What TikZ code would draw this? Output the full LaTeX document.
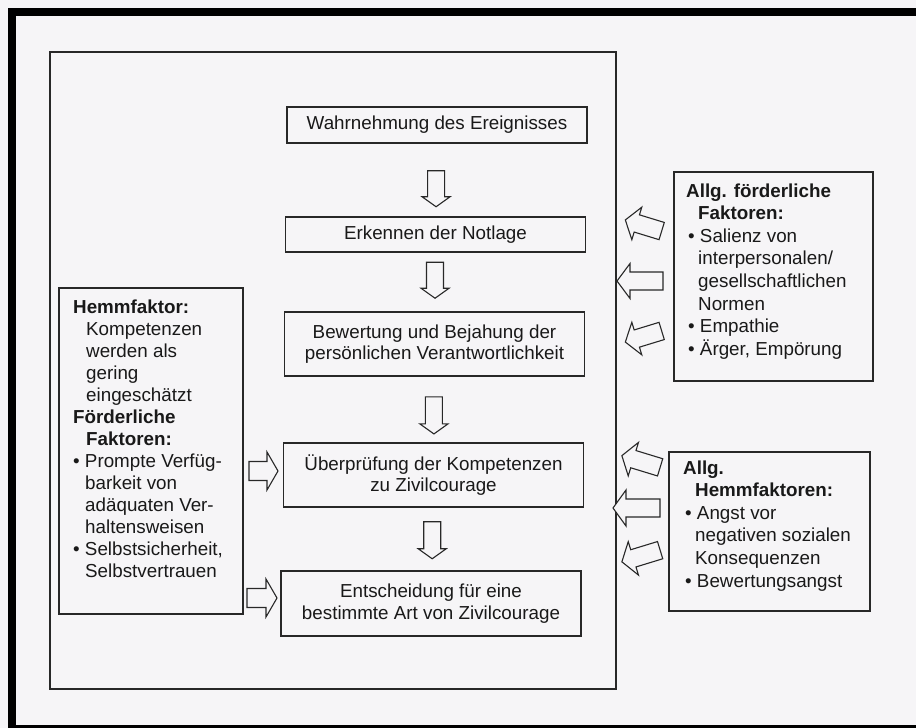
\documentclass[tikz,border=0pt]{standalone}
\usepackage{fontspec}
\setmainfont{Liberation Sans}
\usetikzlibrary{calc}

\definecolor{paper}{RGB}{246,245,247}
\definecolor{ink}{RGB}{25,25,25}
\definecolor{rule}{RGB}{40,40,40}

% hollow block arrow: #1 centre, #2 direction (deg), #3 length,
% #4 shaft width, #5 head width, #6 head length
\newcommand{\hollowarrow}[6]{%
  \draw[arrowline, shift={#1}, rotate=#2]
    ({-#3/2},{-#4/2}) -- ({#3/2-#6},{-#4/2}) -- ({#3/2-#6},{-#5/2})
    -- ({#3/2},0) -- ({#3/2-#6},{#5/2}) -- ({#3/2-#6},{#4/2})
    -- ({-#3/2},{#4/2}) -- cycle;}
\newcommand{\bul}{\textbullet\ }
\newcommand{\cont}{\hspace*{12pt}}

\begin{document}
\begin{tikzpicture}[x=1pt,y=-1pt,
  box/.style={draw=rule, line width=1.2pt, inner sep=0pt},
  stepbox/.style={box, minimum width=300pt, align=center, text=ink,
    font=\fontsize{18.8}{21.5}\selectfont},
  txt/.style={inner sep=0pt, text=ink, align=left, anchor=north west,
    font=\fontsize{18.8}{22}\selectfont},
  txtwide/.style={txt, font=\fontsize{18.8}{22.6}\selectfont},
  arrowline/.style={draw=rule, line width=1.1pt, fill=paper, line join=miter}]

\useasboundingbox (0,0) rectangle (916,728);
\fill[paper] (0,0) rectangle (916,728);
% frame of the page
\fill[black] (8,8) rectangle (916,16);
\fill[black] (8,8) rectangle (16,728);
\fill[black] (8,725) rectangle (916,728);

% outer frame of the process
\node[box, minimum width=566pt, minimum height=637pt] (outer) at (333,370.5) {};

% process steps
\node[stepbox, minimum height=36pt] (b1) at (437,125) {Wahrnehmung des Ereignisses};
\node[stepbox, minimum height=35pt] (b2) at (435.5,234.5) {Erkennen der Notlage};
\node[stepbox, minimum height=64pt] (b3) at (434.5,344) {Bewertung und Bejahung der\\persönlichen Verantwortlichkeit};
\node[stepbox, minimum height=64pt] (b4) at (433.5,475) {Überprüfung der Kompetenzen\\zu Zivilcourage};
\node[stepbox, minimum height=65pt] (b5) at (431,603.5) {Entscheidung für eine\\bestimmte Art von Zivilcourage};

% arrows between the steps
\hollowarrow{($(b1.south)!.62!(b2.north)$)}{270}{36}{17}{28}{10}
\hollowarrow{($(b2.south)!.47!(b3.north)$)}{270}{36}{17}{28}{10}
\hollowarrow{($(b3.south)!.59!(b4.north)$)}{270}{37}{17}{28}{10}
\hollowarrow{($(b4.south)!.52!(b5.north)$)}{270}{37}{17}{28}{10}

% individual factors
\node[box, minimum width=184pt, minimum height=326pt] (hemm) at (151,451) {};
\node[txt] (hemmtext) at (73,299.5) {\textbf{Hemmfaktor:}\\
  \hspace*{13pt}Kompetenzen\\
  \hspace*{13pt}werden als\\
  \hspace*{13pt}gering\\
  \hspace*{13pt}eingeschätzt\\
  \textbf{Förderliche}\\
  \hspace*{13pt}\textbf{Faktoren:}\\
  \bul Prompte Verfüg-\\
  \cont barkeit von\\
  \cont adäquaten Ver-\\
  \cont haltensweisen\\
  \bul Selbstsicherheit,\\
  \cont Selbstvertrauen};
\hollowarrow{(263.5,471)}{0}{29}{19}{38}{11}
\hollowarrow{(262,598)}{0}{30}{19}{38}{11}

% general promoting factors
\node[box, minimum width=199pt, minimum height=209pt] (foerd) at (773.5,276.5) {};
\node[txtwide] (foerdtext) at (686,183.3) {\textbf{Allg. förderliche}\\
  \cont\textbf{Faktoren:}\\
  \hspace*{2pt}\bul Salienz von\\
  \cont interpersonalen/\\
  \cont gesellschaftlichen\\
  \cont Normen\\
  \hspace*{2pt}\bul Empathie\\
  \hspace*{2pt}\bul Ärger, Empörung};
\hollowarrow{(643.5,225.5)}{163}{38}{18}{34}{12}
\hollowarrow{(640,281)}{180}{46}{18}{35}{13}
\hollowarrow{(643.5,336.5)}{197}{38}{18}{34}{12}

% general inhibiting factors
\node[box, minimum width=201pt, minimum height=159pt] (allghemm) at (769.5,531.5) {};
\node[txtwide] (allghemmtext) at (683,460.3) {\textbf{Allg.}\\
  \cont\textbf{Hemmfaktoren:}\\
  \hspace*{2pt}\bul Angst vor\\
  \cont negativen sozialen\\
  \cont Konsequenzen\\
  \hspace*{2pt}\bul Bewertungsangst};
\hollowarrow{(641,461.5)}{163}{40}{18}{35}{12}
\hollowarrow{(636.5,508)}{180}{47}{18}{36}{13}
\hollowarrow{(641,556)}{197}{40}{18}{35}{12}

\end{tikzpicture}
\end{document}
